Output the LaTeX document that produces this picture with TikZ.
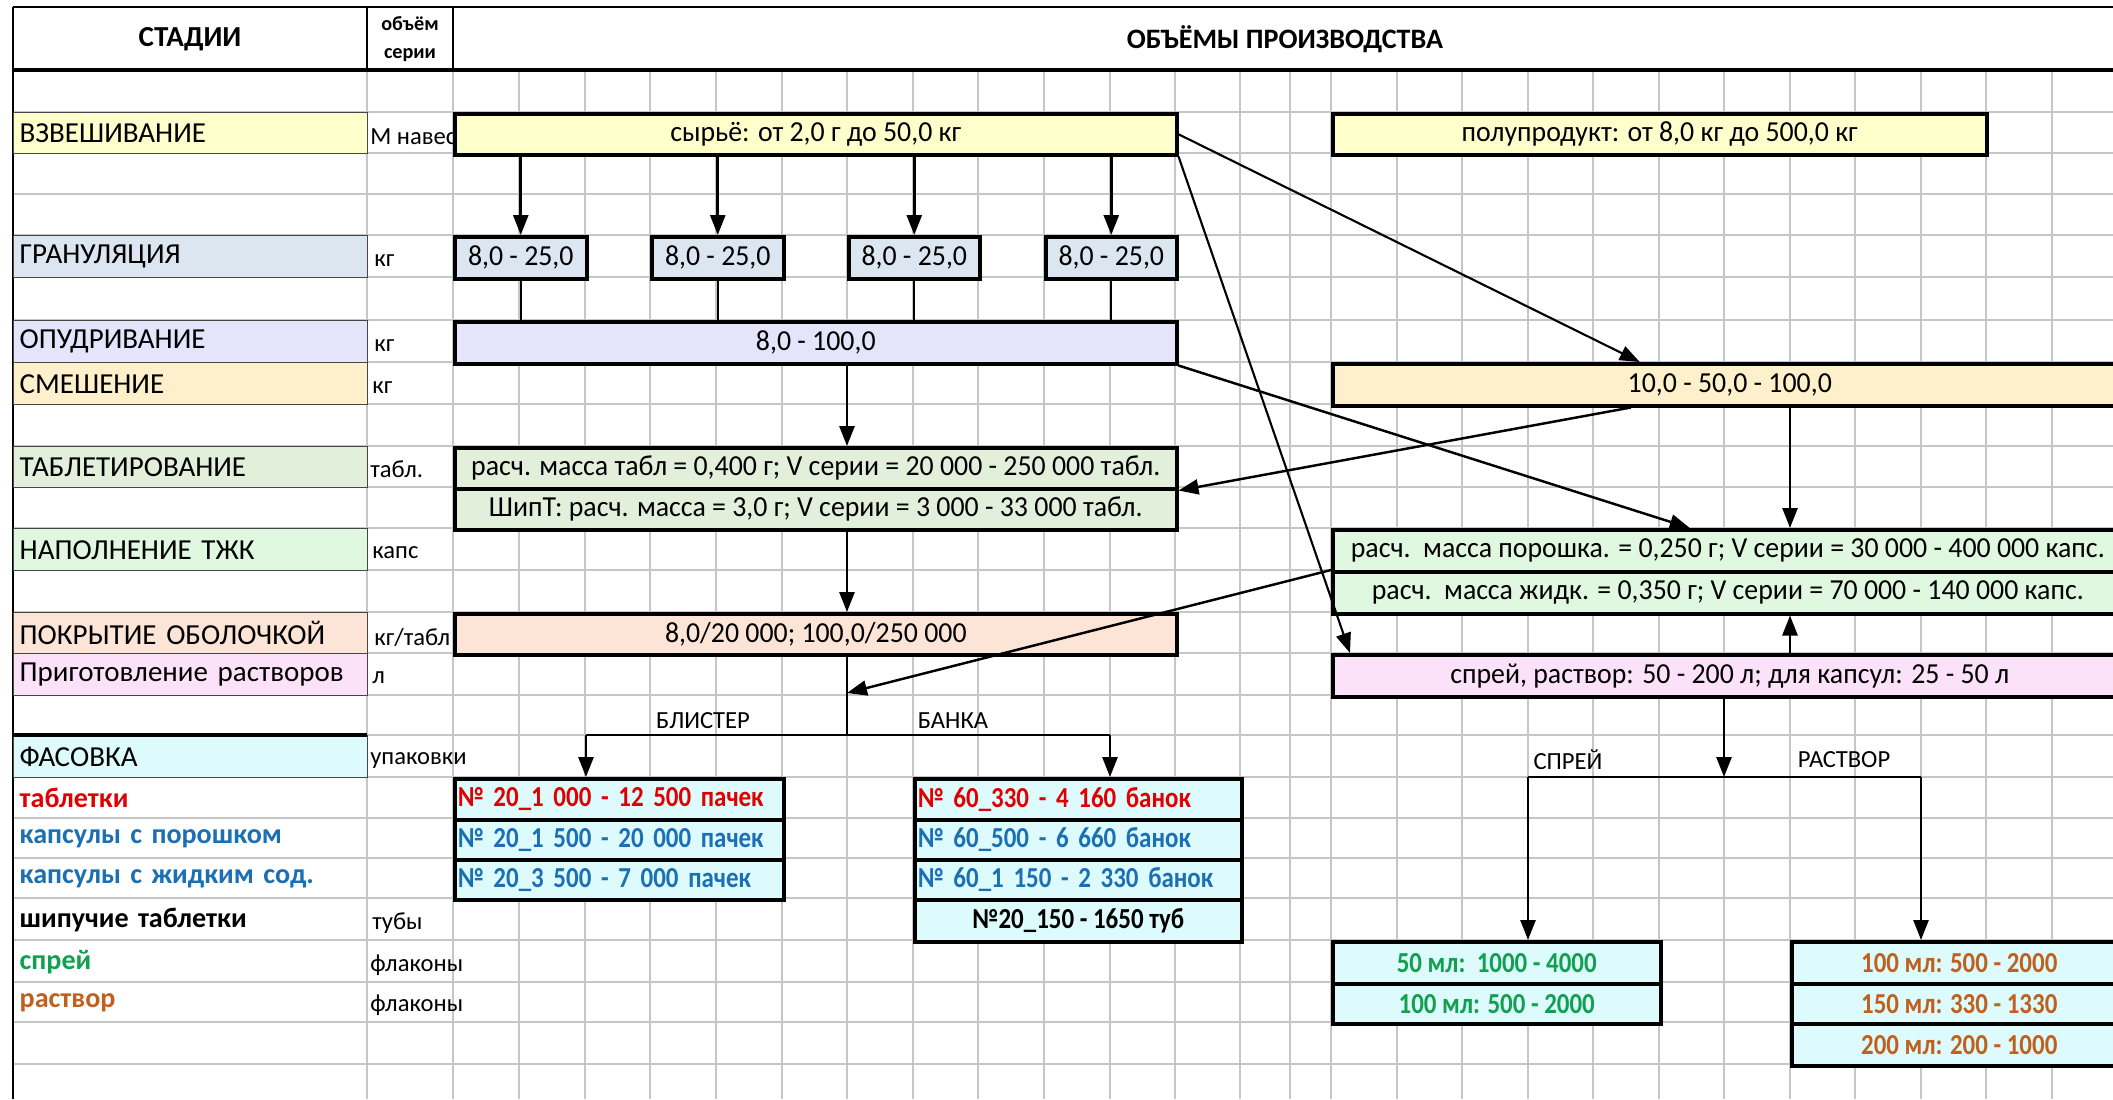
\documentclass[tikz,border=0pt]{standalone}
\usepackage{fontspec}
\setmainfont{Carlito}
\newfontfamily\condfont{Carlito}[FakeStretch=0.96]
\newfontfamily\packfont{Carlito}[FakeStretch=0.86]
\usepackage{xcolor}
\usetikzlibrary{arrows.meta,positioning}

\newlength{\pxu}
\setlength{\pxu}{0.02cm}

\definecolor{cYellow}{HTML}{FFFFCC}
\definecolor{cGran}{HTML}{DCE6F1}
\definecolor{cLav}{HTML}{E4E4FA}
\definecolor{cMix}{HTML}{FEF0CA}
\definecolor{cTabl}{HTML}{E2EFDA}
\definecolor{cCaps}{HTML}{E0F7E0}
\definecolor{cPeach}{HTML}{FCE4D6}
\definecolor{cPink}{HTML}{FCE2F8}
\definecolor{cCyan}{HTML}{DDFAFC}
\definecolor{tRed}{HTML}{E00000}
\definecolor{tBlue}{HTML}{1A6FB5}
\definecolor{tGreen}{HTML}{10A050}
\definecolor{tBrown}{HTML}{C0601E}

\begin{document}
\begin{tikzpicture}[x=0.02cm,y=-0.02cm,>={Triangle[length=0.4cm,width=0.3cm]},
gridline/.style={line width=1.1pt,draw=gray!45},
stagecell/.style={draw=gray!55!black,line width=0.8pt,anchor=north west,
text width=342\pxu,inner xsep=6\pxu,inner ysep=0pt,align=left,
font=\fontsize{16.5}{18}\selectfont},
unit/.style={anchor=west,inner sep=0pt,font=\fontsize{14}{16}\selectfont},
volbox/.style={draw=black,line width=2pt,anchor=north west,inner sep=0pt,
font=\condfont\fontsize{16.5}{18}\selectfont},
packbox/.style={volbox,fill=cCyan,font=\packfont\bfseries\fontsize{16.5}{18}\selectfont},
packleft/.style={packbox,align=left,inner xsep=3\pxu},
flow/.style={->,line width=1.6pt},
link/.style={line width=1.3pt}]
\tikzstyle{tag}=[font=\fontsize{14}{16}\selectfont]

\useasboundingbox (0,0) rectangle (2113,1099);
\clip (0,0) rectangle (2113,1099);
\fill[white] (0,0) rectangle (2113,1099);

% grid rows
\draw[gridline] (13,112)--(2113,112);
\draw[gridline] (13,153)--(2113,153);
\draw[gridline] (13,194)--(2113,194);
\draw[gridline] (13,235)--(2113,235);
\draw[gridline] (13,277)--(2113,277);
\draw[gridline] (13,320)--(2113,320);
\draw[gridline] (13,362)--(2113,362);
\draw[gridline] (13,404)--(2113,404);
\draw[gridline] (13,446)--(2113,446);
\draw[gridline] (13,487)--(2113,487);
\draw[gridline] (13,528)--(2113,528);
\draw[gridline] (13,570)--(2113,570);
\draw[gridline] (13,612)--(2113,612);
\draw[gridline] (13,653)--(2113,653);
\draw[gridline] (13,695)--(2113,695);
\draw[gridline] (13,735)--(2113,735);
\draw[gridline] (13,777)--(2113,777);
\draw[gridline] (13,818)--(2113,818);
\draw[gridline] (13,858)--(2113,858);
\draw[gridline] (13,898)--(2113,898);
\draw[gridline] (13,940)--(2113,940);
\draw[gridline] (13,982)--(2113,982);
\draw[gridline] (13,1022)--(2113,1022);
\draw[gridline] (13,1064)--(2113,1064);

% grid columns
\draw[gridline] (367,70)--(367,1099);
\draw[gridline] (453,70)--(453,1099);
\draw[gridline] (519,70)--(519,1099);
\draw[gridline] (585,70)--(585,1099);
\draw[gridline] (650,70)--(650,1099);
\draw[gridline] (716,70)--(716,1099);
\draw[gridline] (782,70)--(782,1099);
\draw[gridline] (847,70)--(847,1099);
\draw[gridline] (913,70)--(913,1099);
\draw[gridline] (978,70)--(978,1099);
\draw[gridline] (1044,70)--(1044,1099);
\draw[gridline] (1110,70)--(1110,1099);
\draw[gridline] (1175,70)--(1175,1099);
\draw[gridline] (1240,70)--(1240,1099);
\draw[gridline] (1290,70)--(1290,1099);
\draw[gridline] (1331,70)--(1331,1099);
\draw[gridline] (1397,70)--(1397,1099);
\draw[gridline] (1462,70)--(1462,1099);
\draw[gridline] (1528,70)--(1528,1099);
\draw[gridline] (1593,70)--(1593,1099);
\draw[gridline] (1659,70)--(1659,1099);
\draw[gridline] (1724,70)--(1724,1099);
\draw[gridline] (1790,70)--(1790,1099);
\draw[gridline] (1855,70)--(1855,1099);
\draw[gridline] (1921,70)--(1921,1099);
\draw[gridline] (1986,70)--(1986,1099);
\draw[gridline] (2052,70)--(2052,1099);

% header
\draw[line width=1pt] (13,7)--(2113,7);
\draw[line width=2pt] (13,70)--(2113,70);
\draw[line width=1pt] (13,7)--(13,1099);
\draw[line width=1pt] (367,7)--(367,70);
\draw[line width=1pt] (453,7)--(453,70);
\node (hStage) [font=\bfseries\fontsize{16.5}{18}\selectfont] at (190,39) {СТАДИИ};
\node (hUnit) [align=center,inner sep=0pt,font=\bfseries\fontsize{11.5}{16}\selectfont] at (410,39) {объём\\серии};
\node (hVolume) [font=\bfseries\fontsize{16}{18}\selectfont] at (1285,39) {ОБЪЁМЫ ПРОИЗВОДСТВА};

% units
\node (uWeigh) [unit] at (370,137) {М навески};
\node (uGran) [unit] at (374,261) {кг};
\node (uPowd) [unit] at (374,346) {кг};
\node (uMix) [unit] at (372,388) {кг};
\node (uTabl) [unit] at (370,469) {табл.};
\node (uCaps) [unit] at (372,553) {капс};
\node (uCoat) [unit] at (374,637) {кг/табл};
\node (uPrep) [unit] at (372,678) {л};
\node (uPack) [unit] at (370,760) {упаковки};
\node (uTube) [unit] at (372,923) {тубы};
\node (uSpray) [unit] at (370,965) {флаконы};
\node (uSol) [unit] at (370,1005) {флаконы};

% stages
\node (stWeigh) [stagecell,fill=cYellow,minimum height=41\pxu] at (13,112) {ВЗВЕШИВАНИЕ};
\node (stGran) [stagecell,fill=cGran,minimum height=42\pxu] at (13,235) {ГРАНУЛЯЦИЯ};
\node (stPowd) [stagecell,fill=cLav,minimum height=42\pxu] at (13,320) {ОПУДРИВАНИЕ};
\node (stMix) [stagecell,fill=cMix,minimum height=42\pxu] at (13,362) {СМЕШЕНИЕ};
\node (stTabl) [stagecell,fill=cTabl,minimum height=41\pxu] at (13,446) {ТАБЛЕТИРОВАНИЕ};
\node (stCaps) [stagecell,fill=cCaps,minimum height=42\pxu] at (13,528) {НАПОЛНЕНИЕ ТЖК};
\node (stCoat) [stagecell,fill=cPeach,minimum height=41\pxu] at (13,612) {ПОКРЫТИЕ ОБОЛОЧКОЙ};
\node (stPrep) [stagecell,fill=cPink,minimum height=42\pxu] at (13,653) {Приготовление растворов};
\node (stPack) [stagecell,fill=cCyan,minimum height=42\pxu] at (13,735) {ФАСОВКА};
\draw[line width=2pt] (13,735)--(367,735);
\node (stTab) [stagecell,draw=none,minimum height=41\pxu,text=tRed,font=\bfseries\fontsize{16}{18}\selectfont] at (13,777) {таблетки};
\node (stPowCap) [stagecell,draw=none,minimum height=40\pxu,text=tBlue,font=\bfseries\fontsize{16}{18}\selectfont] at (13,818) {капсулы с порошком};
\node (stLiqCap) [stagecell,draw=none,minimum height=40\pxu,text=tBlue,font=\bfseries\fontsize{16}{18}\selectfont] at (13,858) {капсулы с жидким сод.};
\node (stEff) [stagecell,draw=none,minimum height=42\pxu,font=\bfseries\fontsize{16}{18}\selectfont] at (13,898) {шипучие таблетки};
\node (stSpray) [stagecell,draw=none,minimum height=42\pxu,text=tGreen,font=\bfseries\fontsize{16}{18}\selectfont] at (13,940) {спрей};
\node (stSol) [stagecell,draw=none,minimum height=40\pxu,text=tBrown,font=\bfseries\fontsize{16}{18}\selectfont] at (13,982) {раствор};

% volume boxes
\node (raw) [volbox,fill=cYellow,minimum width=722\pxu,minimum height=41\pxu] at (453,112) {сырьё: от 2,0 г до 50,0 кг};
\node (semi) [volbox,fill=cYellow,minimum width=654\pxu,minimum height=41\pxu] at (1331,112) {полупродукт: от 8,0 кг до 500,0 кг};
\node (granA) [volbox,fill=cGran,minimum width=132\pxu,minimum height=42\pxu] at (453,235) {8,0 - 25,0};
\node (granB) [volbox,fill=cGran,minimum width=132\pxu,minimum height=42\pxu] at (650,235) {8,0 - 25,0};
\node (granC) [volbox,fill=cGran,minimum width=131\pxu,minimum height=42\pxu] at (847,235) {8,0 - 25,0};
\node (granD) [volbox,fill=cGran,minimum width=131\pxu,minimum height=42\pxu] at (1044,235) {8,0 - 25,0};
\node (powd) [volbox,fill=cLav,minimum width=722\pxu,minimum height=42\pxu] at (453,320) {8,0 - 100,0};
\node (mix) [volbox,fill=cMix,minimum width=794\pxu,minimum height=42\pxu] at (1331,362) {10,0 - 50,0 - 100,0};
\node (tablA) [volbox,fill=cTabl,minimum width=722\pxu,minimum height=41\pxu] at (453,446) {расч. масса табл = 0,400 г; V серии = 20 000 - 250 000 табл.};
\node (tablB) [volbox,fill=cTabl,minimum width=722\pxu,minimum height=41\pxu] at (453,487) {ШипТ: расч. масса = 3,0 г; V серии = 3 000 - 33 000 табл.};
\node (capsA) [volbox,fill=cCaps,minimum width=790\pxu,minimum height=42\pxu] at (1331,528) {расч.\ \ масса порошка. = 0,250 г; V серии = 30 000 - 400 000 капс.};
\node (capsB) [volbox,fill=cCaps,minimum width=790\pxu,minimum height=42\pxu] at (1331,570) {расч.\ \ масса жидк. = 0,350 г; V серии = 70 000 - 140 000 капс.};
\node (coat) [volbox,fill=cPeach,minimum width=722\pxu,minimum height=41\pxu] at (453,612) {8,0/20 000; 100,0/250 000};
\node (prep) [volbox,fill=cPink,minimum width=794\pxu,minimum height=42\pxu] at (1331,653) {спрей, раствор: 50 - 200 л; для капсул: 25 - 50 л};

% packing boxes
\node (blisA) [packleft,text width=323\pxu,minimum height=41\pxu,text=tRed] at (453,777) {№ 20\_1 000 - 12 500 пачек};
\node (blisB) [packleft,text width=323\pxu,minimum height=40\pxu,text=tBlue] at (453,818) {№ 20\_1 500 - 20 000 пачек};
\node (blisC) [packleft,text width=323\pxu,minimum height=40\pxu,text=tBlue] at (453,858) {№ 20\_3 500 - 7 000 пачек};
\node (jarA) [packleft,text width=321\pxu,minimum height=41\pxu,text=tRed] at (913,777) {№ 60\_330 - 4 160 банок};
\node (jarB) [packleft,text width=321\pxu,minimum height=40\pxu,text=tBlue] at (913,818) {№ 60\_500 - 6 660 банок};
\node (jarC) [packleft,text width=321\pxu,minimum height=40\pxu,text=tBlue] at (913,858) {№ 60\_1 150 - 2 330 банок};
\node (jarD) [packbox,minimum width=327\pxu,minimum height=42\pxu] at (913,898) {№20\_150 - 1650 туб};
\node (sprA) [packbox,minimum width=328\pxu,minimum height=42\pxu,text=tGreen] at (1331,940) {50 мл:\ \ 1000 - 4000};
\node (sprB) [packbox,minimum width=328\pxu,minimum height=40\pxu,text=tGreen] at (1331,982) {100 мл: 500 - 2000};
\node (solA) [packbox,minimum width=335\pxu,minimum height=42\pxu,text=tBrown] at (1790,940) {100 мл: 500 - 2000};
\node (solB) [packbox,minimum width=335\pxu,minimum height=40\pxu,text=tBrown] at (1790,982) {150 мл: 330 - 1330};
\node (solC) [packbox,minimum width=335\pxu,minimum height=42\pxu,text=tBrown] at (1790,1022) {200 мл: 200 - 1000};

% branch labels
\node (tBlister) [tag] at (703,721) {БЛИСТЕР};
\node (tJar) [tag] at (953,721) {БАНКА};
\node (tSpray) [tag] at (1568,760) {СПРЕЙ};
\node (tSol) [tag] at (1844,760) {РАСТВОР};

% helper points
\coordinate (colL) at (847,0);
\coordinate (colR) at (1790,0);
\coordinate (coatIn) at (847,693);
\coordinate (splitL) at (847,735);
\coordinate (splitLa) at (586,735);
\coordinate (splitLb) at (1110,735);
\coordinate (splitR) at (1724,777);
\coordinate (splitRa) at (1528,777);
\coordinate (splitRb) at (1921,777);

% left flow
\draw[flow] (raw.south -| granA.north)--(granA.north);
\draw[flow] (raw.south -| granB.north)--(granB.north);
\draw[flow] (raw.south -| granC.north)--(granC.north);
\draw[flow] (raw.south -| granD.north)--(granD.north);
\draw[line width=1pt] (granA.south)--(powd.north -| granA.south);
\draw[line width=1pt] (granB.south)--(powd.north -| granB.south);
\draw[line width=1pt] (granC.south)--(powd.north -| granC.south);
\draw[line width=1pt] (granD.south)--(powd.north -| granD.south);
\draw[flow] (powd.south -| colL)--(tablA.north -| colL);
\draw[flow] (tablB.south -| colL)--(coat.north -| colL);
\draw[line width=1pt] (coat.south -| colL)--(splitL);
\draw[link] (splitLa)--(splitLb);
\draw[flow] (splitLa)--(blisA.north -| splitLa);
\draw[flow] (splitLb)--(jarA.north -| splitLb);

% right flow
\draw[flow,line width=1.2pt] (raw.east)--([xshift=-90\pxu]mix.north);
\draw[flow,line width=1.2pt] (raw.south east)--([xshift=19\pxu]prep.north west);
\draw[flow,line width=1.4pt] (powd.south east)--([xshift=-38\pxu]capsA.north);
\draw[flow,line width=1.4pt] ([xshift=-99\pxu]mix.south)--(tablA.south east);
\draw[flow] (mix.south -| colR)--(capsA.north -| colR);
\draw[flow] (prep.north -| colR)--(capsB.south -| colR);
\draw[flow,line width=1.4pt] (capsB.north west)--(coatIn);
\draw[flow] (prep.south -| splitR)--(splitR);
\draw[line width=1pt] (splitRa)--(splitRb);
\draw[flow] (splitRa)--(sprA.north -| splitRa);
\draw[flow] (splitRb)--(solA.north -| splitRb);

\end{tikzpicture}
\end{document}
